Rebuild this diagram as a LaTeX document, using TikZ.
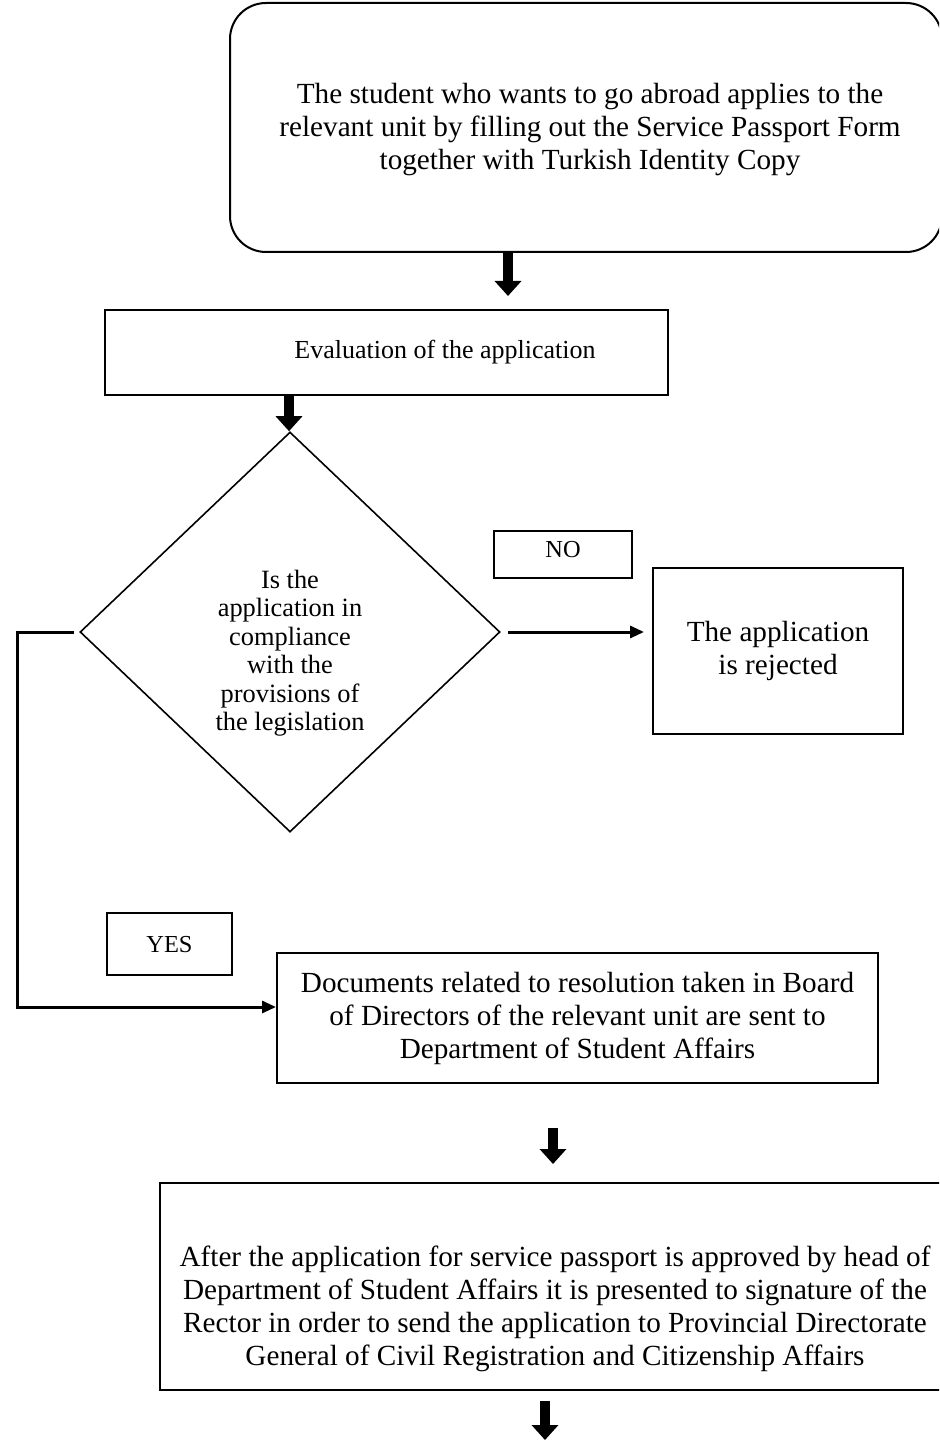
\documentclass[tikz,border=0pt]{standalone}
\usepackage{fontspec}
\setmainfont{Liberation Serif}
\usetikzlibrary{arrows.meta,shapes.geometric}
\begin{document}
\begin{tikzpicture}[x=0.5pt,y=-0.5pt,
  box/.style={draw,line width=1pt,inner sep=0pt},
  txt/.style={align=center,font=\fontsize{14.6}{16.5}\selectfont,inner sep=0pt},
  smalltxt/.style={align=center,font=\fontsize{12.2}{14}\selectfont,inner sep=0pt},
  blockarrow/.style={line width=4.8pt,-{Triangle[width=13pt,length=7.5pt]}},
  conn/.style={line width=1.5pt,-{Triangle[width=6pt,length=7pt]}}]
\useasboundingbox (0,0) rectangle (939,1443);
\clip (0,0) rectangle (939,1443);
% top rounded box
\node[box,rounded corners=18pt,minimum width=356pt,minimum height=124.5pt] (start) at (586,127.5) {};
\node[txt] (starttxt) at (590,130) {The student who wants to go abroad applies to the\\relevant unit by filling out the Service Passport Form\\together with Turkish Identity Copy};
% evaluation
\node[box,minimum width=281.5pt,minimum height=42.5pt] (eval) at (386.5,352.5) {};
\node[align=center,inner sep=0pt,font=\fontsize{13}{15}\selectfont] (evaltxt) at (445,352) {Evaluation of the application};
% diamond
\node[draw,diamond,line width=0.8pt,inner sep=0pt,minimum width=210pt,minimum height=200pt] (dia) at (290,632) {};
\node[align=center,inner sep=0pt,font=\fontsize{13.2}{14.25}\selectfont] (diatxt) at (290,653) {Is the\\application in\\compliance\\with the\\provisions of\\the legislation};
% NO
\node[box,minimum width=69pt,minimum height=23.5pt] (no) at (563,554.5) {};
\node[smalltxt] (notxt) at (563,550) {NO};
% rejected
\node[box,txt,minimum width=125pt,minimum height=83pt] (rej) at (778,651) {The application\\is rejected};
% YES
\node[box,minimum width=62.5pt,minimum height=31pt] (yes) at (169.5,944) {};
\node[smalltxt] (yestxt) at (169.5,945) {YES};
% documents
\node[box,txt,minimum width=300.5pt,minimum height=65pt] (docs) at (577.5,1018) {Documents related to resolution taken in Board\\of Directors of the relevant unit are sent to\\Department of Student Affairs};
% final
\node[box,minimum width=395pt,minimum height=103.5pt] (final) at (555,1286.5) {};
\node[txt] (finaltxt) at (555,1309) {After the application for service passport is approved by head of\\Department of Student Affairs it is presented to signature of the\\Rector in order to send the application to Provincial Directorate\\General of Civil Registration and Citizenship Affairs};
% connectors
\coordinate (a1) at (508,0);
\coordinate (a2) at (289,0);
\coordinate (a3) at (553,0);
\coordinate (a4) at (545,0);
\coordinate (yl) at (17,1007);
\coordinate (endpt) at (545,1440);
\draw[blockarrow,shorten >=6.5pt] (start.south -| a1) -- (eval.north -| a1);
\draw[blockarrow] (eval.south -| a2) -- (dia.north -| a2);
\draw[conn,shorten <=3.5pt,shorten >=4pt] (dia.east) -- (dia.east -| rej.west);
\draw[conn] ([xshift=-2.5pt]dia.west) -- (dia.west -| yl) -- (yl) -- (yl -| docs.west);
\draw[blockarrow,shorten <=22pt,shorten >=9pt] (docs.south -| a3) -- (final.north -| a3);
\draw[blockarrow,shorten <=5pt] (final.south -| a4) -- (endpt);
\end{tikzpicture}
\end{document}
